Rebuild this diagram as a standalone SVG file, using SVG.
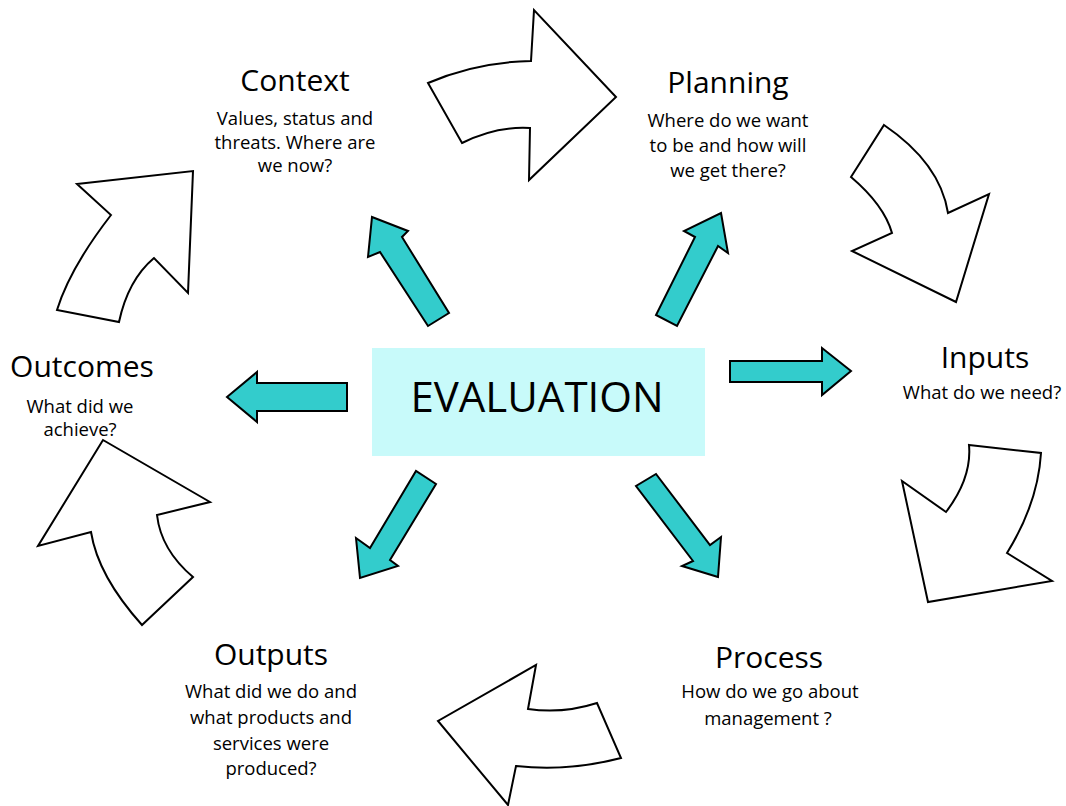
<svg xmlns="http://www.w3.org/2000/svg" width="1066" height="806" viewBox="0 0 1066 806">
  <style>
    .bg { fill: #ffffff; }
    .title { font-family: "Open Sans", "Noto Sans", sans-serif; font-size: 30px; fill: #000; text-anchor: middle; }
    .body { font-family: "Open Sans", "Noto Sans", sans-serif; font-size: 18.5px; fill: #000; text-anchor: middle; }
    .centre { font-family: "Open Sans", "Noto Sans", sans-serif; font-size: 42px; fill: #000; text-anchor: middle; }
    .cycle { fill: #ffffff; stroke: #000; stroke-width: 2; stroke-linejoin: miter; }
    .spoke { fill: #33cccc; stroke: #000; stroke-width: 2; stroke-linejoin: miter; }
    .box { fill: #c8fafa; }
  </style>

  <rect class="bg" x="0" y="0" width="1066" height="806"/>

  <!-- central node -->
  <g id="evaluation">
    <rect class="box" x="372" y="348" width="333" height="108"/>
    <text class="centre" x="537" y="412">EVALUATION</text>
  </g>

  <!-- outer stages -->
  <g id="context">
    <text class="title" x="295" y="91">Context</text>
    <text class="body" x="295" y="125">Values, status and</text>
    <text class="body" x="295" y="149">threats. Where are</text>
    <text class="body" x="295" y="172">we now?</text>
  </g>

  <g id="planning">
    <text class="title" x="728" y="93">Planning</text>
    <text class="body" x="728" y="127">Where do we want</text>
    <text class="body" x="728" y="152">to be and how will</text>
    <text class="body" x="728" y="177">we get there?</text>
  </g>

  <g id="inputs">
    <text class="title" x="985" y="368">Inputs</text>
    <text class="body" x="982" y="399">What do we need?</text>
  </g>

  <g id="process">
    <text class="title" x="769" y="668">Process</text>
    <text class="body" x="770" y="698">How do we go about</text>
    <text class="body" x="768" y="725">management ?</text>
  </g>

  <g id="outputs">
    <text class="title" x="271" y="665">Outputs</text>
    <text class="body" x="271" y="698">What did we do and</text>
    <text class="body" x="271" y="724">what products and</text>
    <text class="body" x="271" y="750">services were</text>
    <text class="body" x="271" y="775">produced?</text>
  </g>

  <g id="outcomes">
    <text class="title" x="82" y="377">Outcomes</text>
    <text class="body" x="80" y="413">What did we</text>
    <text class="body" x="80" y="436">achieve?</text>
  </g>

  <!-- connectors -->
  <g id="connectors">
    <!-- spokes from the centre -->
    <polygon class="spoke" points="372,217 408,231 402,237 449,313 428,326 380,252 368,257"/>
    <polygon class="spoke" points="721,213 728,253 718,246 677,326 656,315 695,237 684,231"/>
    <polygon class="spoke" points="851,371 822,348 822,361 730,361 730,382 822,382 822,395"/>
    <polygon class="spoke" points="718,577 682,566 693,561 636,486 656,474 710,545 721,537"/>
    <polygon class="spoke" points="360,578 356,538 370,548 416,471 436,484 390,560 398,566"/>
    <polygon class="spoke" points="227,397 257,372 257,383 347,383 347,411 257,411 257,422"/>

    <!-- cycle arrows between stages -->
    <path class="cycle" d="M428,83 Q476,62 531,61 L534,10 L616,97 L529,180 L530,128 Q496,126 462,143 Z"/>
    <path class="cycle" d="M884,125 Q940,163 948,213 L989,194 L956,302 L852,251 L892,233 Q884,205 851,177 Z"/>
    <path class="cycle" d="M969,445 L1041,453 Q1038,503 1007,553 L1052,581 L928,602 L902,481 L946,512 Q972,478 969,445 Z"/>
    <path class="cycle" d="M536,665 L528,709 Q563,714 597,703 L621,758 Q567,772 516,766 L508,805 L438,721 Z"/>
    <path class="cycle" d="M103,440 L210,502 L157,515 Q161,550 193,577 L142,625 Q98,576 91,532 L38,546 Z"/>
    <path class="cycle" d="M77,184 L193,171 L188,293 L154,258 Q128,280 119,322 L57,310 Q70,268 111,215 Z"/>
  </g>
</svg>
